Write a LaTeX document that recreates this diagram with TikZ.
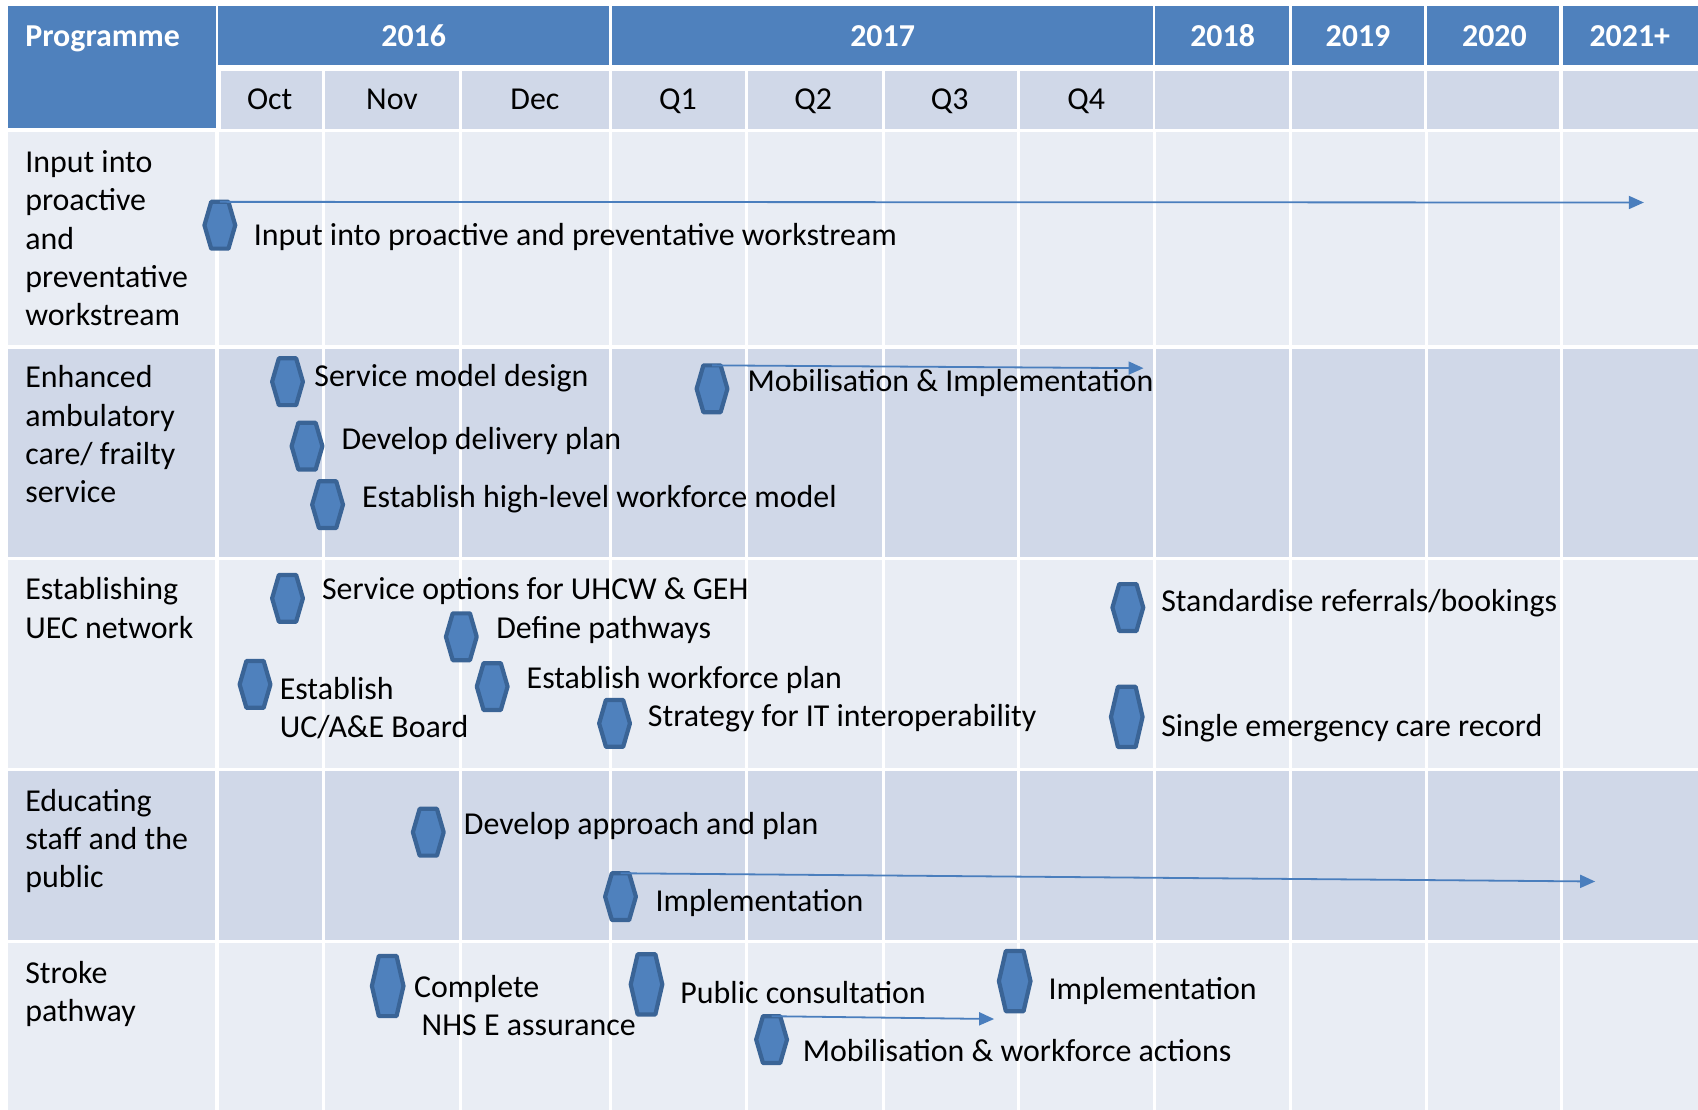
\documentclass[tikz,border=0pt]{standalone}
\usepackage{fontspec}
\setmainfont{Carlito}
\usetikzlibrary{calc,arrows.meta}
\definecolor{hdr}{HTML}{4F81BD}
\definecolor{rowA}{HTML}{E9EDF4}
\definecolor{rowB}{HTML}{D0D8E8}
\definecolor{hexfill}{HTML}{4F81BD}
\definecolor{hexedge}{HTML}{3A6496}
\definecolor{arrowc}{HTML}{4A7EBD}
\tikzset{
 txt/.style={font=\fontsize{15.95}{19.2}\selectfont, inner sep=0pt, anchor=base west, align=left, yshift=-0.5pt},
 hdrtxt/.style={font=\fontsize{15.95}{19.2}\selectfont\bfseries, text=white, inner sep=0pt, anchor=base, yshift=-0.5pt},
 montxt/.style={font=\fontsize{15.95}{19.2}\selectfont, inner sep=0pt, anchor=base, yshift=-0.5pt},
 hexn/.style={rectangle, inner sep=0pt, minimum width=15pt, minimum height=23pt},
 hext/.style={rectangle, inner sep=0pt, minimum width=15.4pt, minimum height=29.7pt},
 hexline/.style={draw=hexedge, fill=hexfill, line width=2.1pt, line join=round},
 arr/.style={draw=arrowc, line width=0.9pt, -{Triangle[length=7.5pt,width=6.5pt]}},
 gridl/.style={white, line width=1.6pt},
}
\newcommand{\msHex}[4]{%
  \node[#4] (#1) at (#2,#3) {};
  \draw[hexline] (#1.west) -- ($(#1.north west)!0.22!(#1.north east)$) -- ($(#1.north west)!0.78!(#1.north east)$) -- (#1.east) -- ($(#1.south west)!0.78!(#1.south east)$) -- ($(#1.south west)!0.22!(#1.south east)$) -- cycle;
}
\begin{document}
\begin{tikzpicture}[x=0.54146pt,y=-0.54146pt]
\useasboundingbox (0,0) rectangle (1568,1025);
\fill[white] (0,0) rectangle (1568,1025);
% header cells
\fill[hdr] (7,6) rectangle (199,118);
\fill[hdr] (201,6) rectangle (562,60);
\fill[hdr] (565,6) rectangle (1065,60);
\fill[hdr] (1067,6) rectangle (1190,60);
\fill[hdr] (1193,6) rectangle (1315,60);
\fill[hdr] (1318,6) rectangle (1440,60);
\fill[hdr] (1443,6) rectangle (1568,60);
% month cells
\foreach \a/\b in {204/297,300/424,427/562,565/688,691/814,817/939,942/1065,1067/1190,1193/1315,1318/1440,1443/1568}
  \fill[rowB] (\a,66) rectangle (\b,119);
% body rows
\fill[rowA] (7,122) rectangle (1568,319);
\fill[rowB] (7,322) rectangle (1568,514);
\fill[rowA] (7,517) rectangle (1568,709);
\fill[rowB] (7,712) rectangle (1568,868);
\fill[rowA] (7,871) rectangle (1568,1025);
\draw[white, line width=2pt] (200,122) -- (200,1025);
\foreach \x in {298.5,425.5,563.5,689.5,815.5,940.5,1066,1191.5,1317,1442}
  \draw[gridl] (\x,122) -- (\x,1025);
% header text
\node[txt, font=\fontsize{15.95}{19.2}\selectfont\bfseries, text=white] (hprog) at (23,42) {Programme};
\node[hdrtxt] (y16) at (382,42) {2016};
\node[hdrtxt] (y17) at (815,42) {2017};
\node[hdrtxt] (y18) at (1129,42) {2018};
\node[hdrtxt] (y19) at (1254,42) {2019};
\node[hdrtxt] (y20) at (1380,42) {2020};
\node[hdrtxt] (y21) at (1505,42) {2021+};
\node[montxt] (mOct) at (249,100) {Oct};
\node[montxt] (mNov) at (362,100) {Nov};
\node[montxt] (mDec) at (494,100) {Dec};
\node[montxt] (mQ1) at (626,100) {Q1};
\node[montxt] (mQ2) at (751,100) {Q2};
\node[montxt] (mQ3) at (877,100) {Q3};
\node[montxt] (mQ4) at (1003,100) {Q4};
% programme labels (base = baseline of last line)
\node[txt] (p1) at (23,300) {Input into\\proactive\\and\\preventative\\workstream};
\node[txt] (p2) at (23,463.5) {Enhanced\\ambulatory\\care/ frailty\\service};
\node[txt] (p3) at (23,588.5) {Establishing\\UEC network};
\node[txt] (p4) at (23,819) {Educating\\staff and the\\public};
\node[txt] (p5) at (23,942.5) {Stroke\\pathway};
% milestones
\msHex{h1}{203}{208}{hexn}
\msHex{h2a}{265.5}{352.5}{hexn}
\msHex{h2b}{283.5}{412}{hexn}
\msHex{h2c}{302.5}{466}{hexn}
\msHex{h2d}{657.5}{359}{hexn}
\msHex{h3a}{265.5}{552.5}{hexn}
\msHex{h3b}{426}{588}{hexn}
\msHex{h3c}{235.5}{632}{hexn}
\msHex{h3d}{454.5}{634}{hexn}
\msHex{h3e}{567.5}{668}{hexn}
\msHex{h3f}{1041.5}{561}{hexn}
\msHex{h3g}{1040.5}{662}{hext}
\msHex{h4a}{395.5}{768.5}{hexn}
\msHex{h4b}{573}{828}{hexn}
\msHex{h5a}{358}{910.5}{hext}
\msHex{h5b}{597}{909}{hext}
\msHex{h5c}{937}{906}{hext}
\msHex{h5d}{712.5}{960}{hexn}
% arrows
\coordinate (e1) at (1518,187);
\coordinate (e2) at (1056,340);
\coordinate (e4) at (1473,814);
\coordinate (e5) at (918,941);
\draw[arr] (h1.north) -- (e1);
\draw[arr] (h2d.north) -- (e2);
\draw[arr] (h4b.north) -- (e4);
\draw[arr] (h5d.north) -- (e5);
% milestone texts
\node[txt] (t1) at (234,226) {Input into proactive and preventative workstream};
\node[txt] (t2a) at (290,356) {Service model design};
\node[txt] (t2b) at (315,414) {Develop delivery plan};
\node[txt] (t2c) at (334,468) {Establish high-level workforce model};
\node[txt] (t2d) at (690,361) {Mobilisation \& Implementation};
\node[txt] (t3a) at (297,553) {Service options for UHCW \& GEH};
\node[txt] (t3b) at (458,589) {Define pathways};
\node[txt] (t3c) at (258,680.5) {Establish\\UC/A\&E Board};
\node[txt] (t3d) at (486,635) {Establish workforce plan};
\node[txt] (t3e) at (598,670) {Strategy for IT interoperability};
\node[txt] (t3f) at (1072,564) {Standardise referrals/bookings};
\node[txt] (t3g) at (1072,679) {Single emergency care record};
\node[txt] (t4a) at (428,770) {Develop approach and plan};
\node[txt] (t4b) at (605,841) {Implementation};
\node[txt] (t5a) at (382,955.5) {Complete\\\hspace*{3.8pt}NHS E assurance};
\node[txt] (t5b) at (628,926) {Public consultation};
\node[txt] (t5c) at (968,922) {Implementation};
\node[txt] (t5d) at (741,979) {Mobilisation \& workforce actions};
\end{tikzpicture}
\end{document}
